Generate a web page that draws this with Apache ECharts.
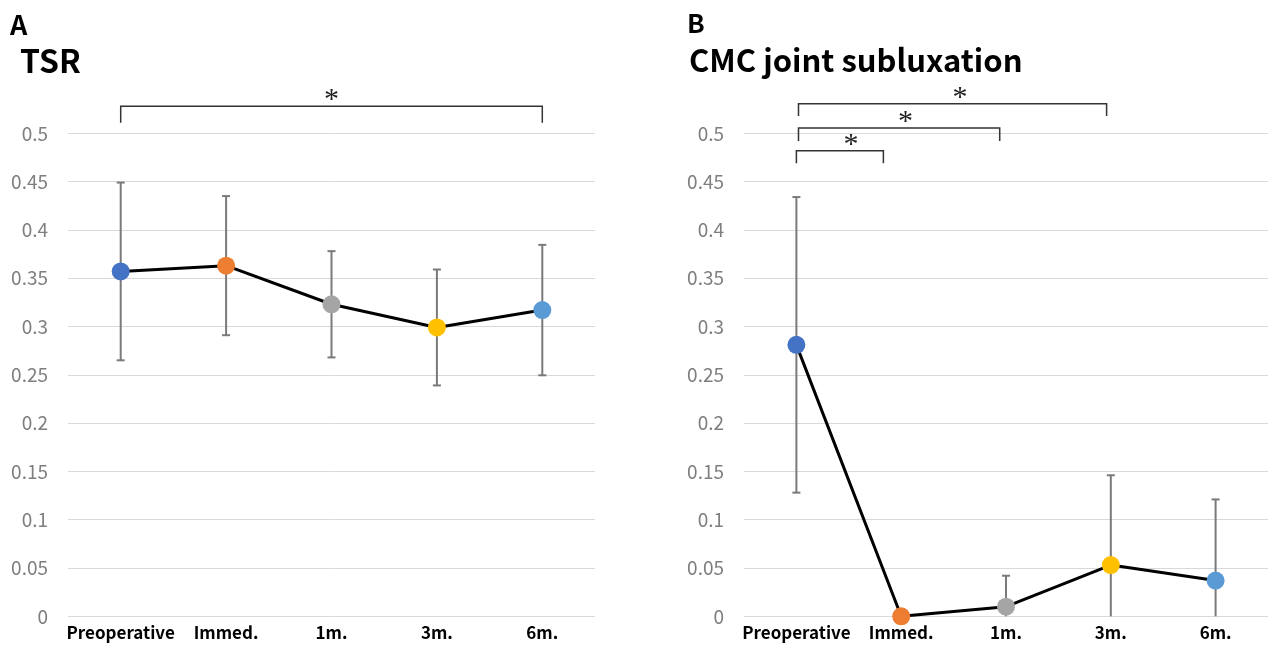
<!DOCTYPE html>
<html><head><meta charset="utf-8">
<script src="https://cdn.jsdelivr.net/npm/echarts@6/dist/echarts.min.js"></script>
<style>html,body{margin:0;padding:0;background:#fff}#c{width:1277px;height:649px}</style>
</head><body><div id="c"></div>
<script>
const categories = ['Preoperative', 'Immed.', '1m.', '3m.', '6m.'];
const tsrMean = [0.357, 0.363, 0.323, 0.299, 0.317];
const tsrErr  = [0.092, 0.072, 0.055, 0.060, 0.0675];
const cmcMean = [0.281, 0.000, 0.010, 0.053, 0.037];
const cmcErr  = [0.153, 0.000, 0.032, 0.093, 0.084];
const tsrBrackets = [{from: 0, to: 4, top: 0.528, foot: 0.511, star: 2.0}];
const cmcBrackets = [
  {from: 0, to: 0.83, top: 0.482, foot: 0.469, star: 0.52},
  {from: 0.02, to: 1.94, top: 0.5055, foot: 0.492, star: 1.04},
  {from: 0.02, to: 2.96, top: 0.5307, foot: 0.518, star: 1.56}
];
const panelLetters = ['A', 'B'];
const panelTitles = ['TSR', 'CMC joint subluxation'];

const pointColors = ['#4472C4', '#ED7D31', '#A5A5A5', '#FFC000', '#5B9BD5'];
const chart = echarts.init(document.getElementById('c'));

function errSeries(mean, err, idx) {
  return {
    type: 'custom', xAxisIndex: idx, yAxisIndex: idx, z: 2, clip: false,
    data: mean.map((m, i) => [i, Math.max(0, m - err[i]), m + err[i], m - err[i] < 0 ? 1 : 0]),
    encode: {x: 0, y: [1, 2]},
    renderItem: function (params, api) {
      if (api.value(2) - api.value(1) <= 0) return null;
      const lo = api.coord([api.value(0), api.value(1)]);
      const hi = api.coord([api.value(0), api.value(2)]);
      const st = {stroke: '#7a7a7a', lineWidth: 2};
      const ch = [
        {type: 'line', shape: {x1: lo[0], y1: lo[1], x2: hi[0], y2: hi[1]}, style: st},
        {type: 'line', shape: {x1: hi[0] - 4, y1: hi[1], x2: hi[0] + 4, y2: hi[1]}, style: st}
      ];
      if (!api.value(3)) ch.push({type: 'line', shape: {x1: lo[0] - 4, y1: lo[1], x2: lo[0] + 4, y2: lo[1]}, style: st});
      return {type: 'group', children: ch};
    }
  };
}
function lineSeries(mean, idx) {
  return {
    type: 'line', xAxisIndex: idx, yAxisIndex: idx, z: 3,
    symbol: 'circle', symbolSize: 18,
    lineStyle: {color: '#000', width: 3},
    data: mean.map((v, i) => ({value: v, itemStyle: {color: pointColors[i]}}))
  };
}
function bracketSeries(br, idx) {
  return {
    type: 'custom', xAxisIndex: idx, yAxisIndex: idx, z: 4, clip: false, silent: true,
    data: br.map(b => [0, b.top]),
    encode: {x: 0, y: 1},
    renderItem: function (params, api) {
      const b = br[params.dataIndex];
      const c0 = api.coord([0, b.top]), c1 = api.coord([1, b.top]);
      const step = c1[0] - c0[0];
      const xs = c0[0] + b.from * step, xe = c0[0] + b.to * step;
      const yt = c0[1], yf = api.coord([0, b.foot])[1];
      const xm = c0[0] + b.star * step;
      const st = {stroke: '#333', lineWidth: 1.5, fill: null};
      return {type: 'group', children: [
        {type: 'polyline', shape: {points: [[xs, yf], [xs, yt], [xe, yt], [xe, yf]]}, style: st},
        {type: 'text', x: xm, y: yt + 9, style: {text: '*', fill: '#222', font: '30px "Liberation Serif"', align: 'center', verticalAlign: 'bottom'}}
      ]};
    }
  };
}
const grids = [
  {left: 68, right: 1277 - 595, top: 133.3, bottom: 649 - 616.3},
  {left: 744, right: 1277 - 1268, top: 133.3, bottom: 649 - 616.3}
];
const xAxes = [0, 1].map(i => ({
  type: 'category', gridIndex: i, data: categories, boundaryGap: true,
  axisLine: {show: false}, axisTick: {show: false},
  axisLabel: {color: '#000', fontWeight: 'bold', fontSize: 17, fontFamily: '"Noto Sans CJK JP", "Noto Sans", sans-serif', margin: 8, interval: 0}
}));
const yAxes = [0, 1].map(i => ({
  type: 'value', gridIndex: i, min: 0, max: 0.5, interval: 0.05,
  axisLine: {show: false}, axisTick: {show: false},
  splitLine: {lineStyle: {color: '#d9d9d9', width: 1}},
  axisLabel: {color: '#7f7f7f', fontSize: 19, fontFamily: '"Noto Sans CJK JP", "Noto Sans", sans-serif', margin: 20,
    formatter: v => String(+v.toFixed(2))}
}));
const textFont = '"Noto Sans CJK JP", "Noto Sans", sans-serif';
chart.setOption({
  animation: false,
  grid: grids, xAxis: xAxes, yAxis: yAxes,
  graphic: [
    {type: 'text', left: 10, top: 11, style: {text: panelLetters[0], font: 'bold 27px ' + textFont, fill: '#000'}},
    {type: 'text', left: 20, top: 45, style: {text: panelTitles[0], font: 'bold 32px ' + textFont, fill: '#000'}},
    {type: 'text', left: 687, top: 10, style: {text: panelLetters[1], font: 'bold 26px ' + textFont, fill: '#000'}},
    {type: 'text', left: 689, top: 45, style: {text: panelTitles[1], font: 'bold 31px ' + textFont, fill: '#000'}}
  ],
  series: [
    errSeries(tsrMean, tsrErr, 0), lineSeries(tsrMean, 0), bracketSeries(tsrBrackets, 0),
    errSeries(cmcMean, cmcErr, 1), lineSeries(cmcMean, 1), bracketSeries(cmcBrackets, 1)
  ]
});
</script></body></html>
